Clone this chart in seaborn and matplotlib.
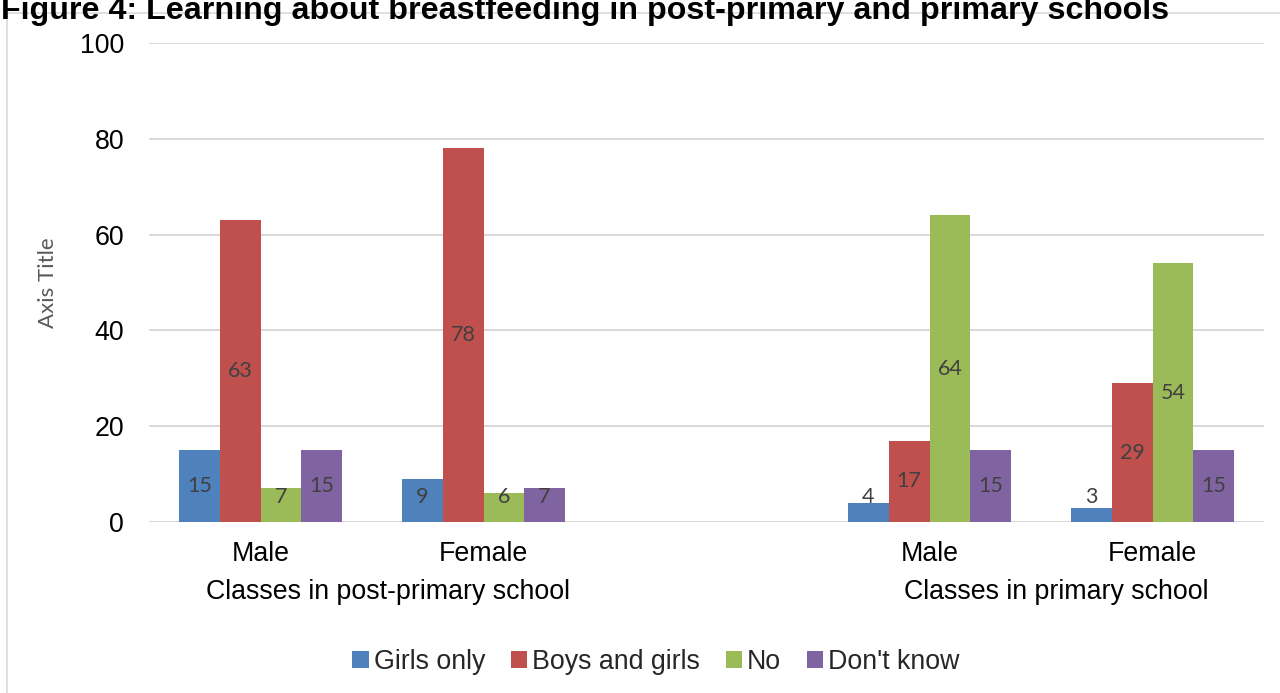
import matplotlib
matplotlib.use("Agg")
import matplotlib.pyplot as plt
import matplotlib.patches as mpatches
import pandas as pd
import seaborn as sns

# --------------------------------------------------------------------------- #
# Data
# --------------------------------------------------------------------------- #
slots = ["post_m", "post_f", "gap", "prim_m", "prim_f"]
slot_labels = ["Male", "Female", "", "Male", "Female"]
groups = ["Classes in post-primary school", "Classes in primary school"]
answers = ["Girls only", "Boys and girls", "No", "Don't know"]
bars_slots = ["post_m", "post_f", "prim_m", "prim_f"]
girls_only = [15, 9, 4, 3]
boys_and_girls = [63, 78, 17, 29]
no = [7, 6, 64, 54]
dont_know = [15, 7, 15, 15]
colors = ["#4F81BD", "#C0504D", "#9BBB59", "#8064A2"]

series = [girls_only, boys_and_girls, no, dont_know]
df = pd.DataFrame(
    [(s, a, v) for a, vals in zip(answers, series) for s, v in zip(bars_slots, vals)],
    columns=["slot", "answer", "value"],
)

# --------------------------------------------------------------------------- #
# Plot
# --------------------------------------------------------------------------- #
sns.set_theme(style="white")
plt.rcParams["font.family"] = ["Liberation Sans", "DejaVu Sans"]

W, H = 1280, 693
fig = plt.figure(figsize=(W / 100, H / 100), dpi=100)
ax = fig.add_axes([149 / W, 1 - 522 / H, (1264 - 149) / W, (522 - 43) / H])

sns.barplot(data=df, x="slot", y="value", hue="answer", order=slots,
            hue_order=answers, palette=colors, width=0.73, gap=0,
            linewidth=0, saturation=1, ax=ax)

ax.set_xlim(-0.5, 4.5)
ax.set_ylim(0, 100)
ax.set_yticks(range(0, 101, 20))
ax.yaxis.grid(True, color="#D9D9D9", lw=1.4)
ax.set_axisbelow(True)
for side in ["top", "right", "left", "bottom"]:
    ax.spines[side].set_visible(False)
ax.tick_params(axis="y", length=0, pad=18, labelsize=19.3, labelcolor="black")
ax.tick_params(axis="x", length=0, pad=14, labelsize=19.3, labelcolor="black")
ax.set_xticks(range(len(slots)))
ax.set_xticklabels(slot_labels)
ax.set_xlabel("")
ax.set_ylabel("Axis Title", fontsize=16, color="#595959", family=["Lato", "DejaVu Sans"],
              labelpad=16)

# data labels, centred in the bar (kept clear of the baseline for short bars)
for cont, vals in zip(ax.containers, series):
    for bar, v in zip(cont, vals):
        ax.text(bar.get_x() + bar.get_width() / 2, max(v / 2, 5.3), f"{v}",
                ha="center", va="center", fontsize=15.5, color="#404040",
                family=["Lato", "DejaVu Sans"])

# group labels
for gx, g in zip([0.57, 3.57], groups):
    ax.text(gx, -0.146, g, transform=ax.get_xaxis_transform(), ha="center",
            va="center", fontsize=19.3, color="black")

handles, labels = ax.get_legend_handles_labels()
ax.get_legend().remove()
fig.legend(handles, labels, loc="center", bbox_to_anchor=(656 / W, 1 - 662 / H),
           ncol=4, frameon=False, fontsize=19.3, handlelength=0.6, handleheight=0.6,
           handletextpad=0.2, columnspacing=0.95)

# chart-area border and title
fig.patches.append(mpatches.Rectangle((7 / W, -0.1), 1.2, 1 - 13 / H + 0.1,
                                      transform=fig.transFigure, fill=False,
                                      edgecolor="#D9D9D9", lw=1.2))
fig.text(1 / W, 1 - 19 / H,
         "Figure 4: Learning about breastfeeding in post-primary and primary schools",
         ha="left", va="baseline", fontsize=23.2, fontweight="bold", color="black")

fig.savefig("out.png", dpi=100)
